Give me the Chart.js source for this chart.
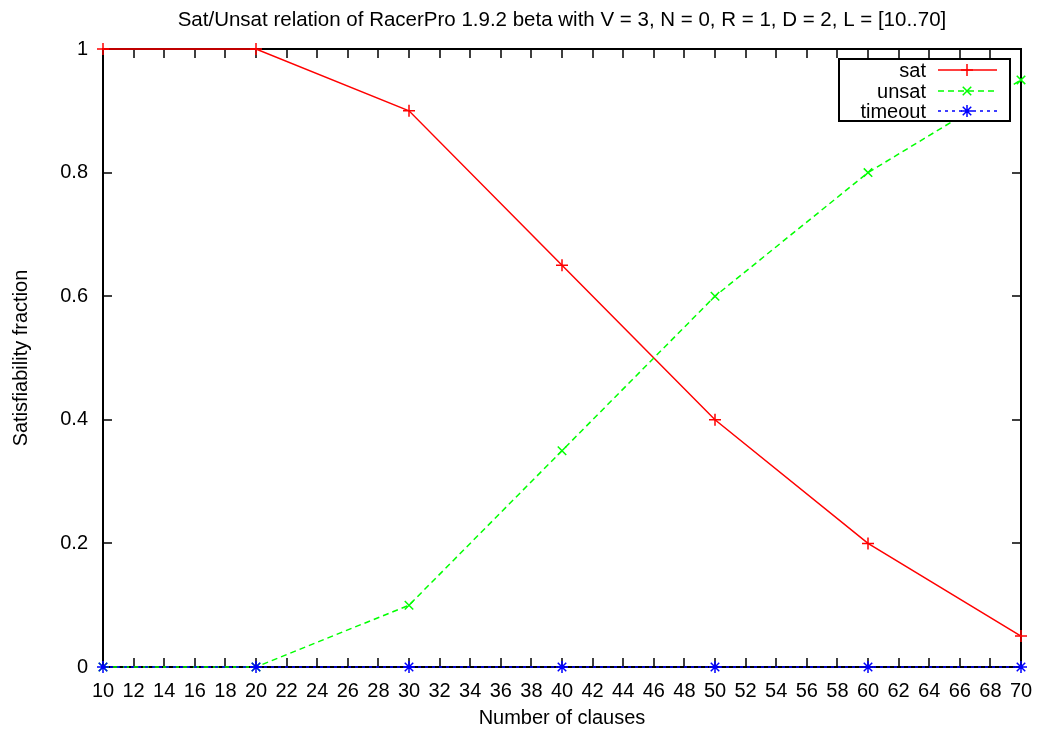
<!DOCTYPE html>
<html>
<head>
<meta charset="utf-8">
<script src="https://cdn.jsdelivr.net/npm/chart.js@4/dist/chart.umd.min.js"></script>
<style>
  html, body { margin: 0; padding: 0; background: #fff; }
  #wrap { width: 1041px; height: 733px; }
</style>
</head>
<body>
<div id="wrap"><canvas id="myChart" width="1041" height="733"></canvas></div>
<script>
// data
var clauses = [10, 20, 30, 40, 50, 60, 70];
var satValues = [1, 1, 0.9, 0.65, 0.4, 0.2, 0.05];
var unsatValues = [0, 0, 0.1, 0.35, 0.6, 0.8, 0.95];
var timeoutValues = [0, 0, 0, 0, 0, 0, 0];
var xTicks = [10, 12, 14, 16, 18, 20, 22, 24, 26, 28, 30, 32, 34, 36, 38, 40, 42, 44, 46, 48, 50, 52, 54, 56, 58, 60, 62, 64, 66, 68, 70];
var yTicks = [0, 0.2, 0.4, 0.6, 0.8, 1];

var FONT = '"Liberation Sans", Arial, sans-serif';
Chart.defaults.font.family = FONT;
Chart.defaults.color = '#000';

function toPoints(values) {
  return clauses.map((c, i) => ({ x: c, y: values[i] }));
}

// frame + inward ticks on all four sides, gnuplot style
var framePlugin = {
  id: 'frame',
  beforeDatasetsDraw(chart) {
    var ctx = chart.ctx;
    var a = chart.chartArea;
    var xs = chart.scales.x;
    var ys = chart.scales.y;
    ctx.save();
    ctx.strokeStyle = '#000';
    ctx.lineWidth = 1.5;
    ctx.beginPath();
    xTicks.forEach((t) => {
      var px = Math.round(xs.getPixelForValue(t));
      ctx.moveTo(px, a.bottom); ctx.lineTo(px, a.bottom - 9);
      ctx.moveTo(px, a.top); ctx.lineTo(px, a.top + 9);
    });
    yTicks.forEach((t) => {
      var py = Math.round(ys.getPixelForValue(t));
      ctx.moveTo(a.left, py); ctx.lineTo(a.left + 9, py);
      ctx.moveTo(a.right, py); ctx.lineTo(a.right - 9, py);
    });
    ctx.stroke();
    ctx.lineWidth = 2;
    ctx.strokeRect(a.left, a.top, a.right - a.left, a.bottom - a.top);
    ctx.restore();
  },
  afterDraw(chart) {
    // key box, top right
    var ctx = chart.ctx;
    var bx = 839, by = 59, bw = 171, bh = 62;
    ctx.save();
    ctx.fillStyle = '#fff';
    ctx.fillRect(bx, by, bw, bh);
    ctx.strokeStyle = '#000';
    ctx.lineWidth = 2;
    ctx.strokeRect(bx, by, bw, bh);
    ctx.font = '20px ' + FONT;
    ctx.textAlign = 'right';
    ctx.textBaseline = 'middle';
    var rows = [70, 91, 111];
    chart.data.datasets.forEach((ds, i) => {
      var y = rows[i];
      ctx.fillStyle = '#000';
      ctx.fillText(ds.label, 926, y + 1);
      ctx.strokeStyle = ds.borderColor;
      ctx.lineWidth = ds.borderWidth;
      ctx.setLineDash(ds.borderDash || []);
      ctx.beginPath();
      ctx.moveTo(938, y); ctx.lineTo(997, y);
      ctx.stroke();
      ctx.setLineDash([]);
      Chart.helpers.drawPoint(ctx, { pointStyle: ds.pointStyle, radius: ds.pointRadius, borderWidth: ds.pointBorderWidth }, 967, y);
    });
    ctx.restore();
  }
};

function seriesStyle(color, dash, marker, order) {
  return {
    borderColor: color,
    borderWidth: 1.5,
    borderDash: dash,
    pointStyle: marker,
    pointRadius: 6,
    pointBorderColor: color,
    pointBorderWidth: 1.5,
    tension: 0,
    fill: false,
    order: order,
  };
}

var config = {
  type: 'line',
  data: {
    datasets: [
      Object.assign({ label: 'sat', data: toPoints(satValues) }, seriesStyle('#ff0000', [], 'cross', 2)),
      Object.assign({ label: 'unsat', data: toPoints(unsatValues) }, seriesStyle('#00ff00', [6, 4], 'crossRot', 1)),
      Object.assign({ label: 'timeout', data: toPoints(timeoutValues) }, seriesStyle('#0000ff', [3, 4], 'star', 0)),
    ],
  },
  options: {
    responsive: false,
    animation: false,
    clip: false,
    layout: { padding: { top: 49, right: 20, left: 0, bottom: 0 } },
    plugins: {
      legend: { display: false },
      tooltip: { enabled: false },
      title: { display: false },
    },
    scales: {
      x: {
        type: 'linear',
        min: 10,
        max: 70,
        grid: { display: false },
        border: { display: false },
        afterBuildTicks: (s) => { s.ticks = xTicks.map((v) => ({ value: v })); },
        ticks: { font: { size: 20 }, padding: 4, maxRotation: 0, autoSkip: false, callback: (v) => String(v) },
        title: { display: true, text: 'Number of clauses', font: { size: 20 }, padding: { top: 0, bottom: 3 } },
        afterFit: (s) => { s.height = 66; },
      },
      y: {
        min: 0,
        max: 1,
        grid: { display: false },
        border: { display: false },
        afterBuildTicks: (s) => { s.ticks = yTicks.map((v) => ({ value: v })); },
        ticks: { font: { size: 20 }, padding: 7, callback: (v) => String(Math.round(v * 10) / 10) },
        title: { display: true, text: 'Satisfiability fraction', font: { size: 20 }, padding: { top: 9, bottom: 10 } },
        afterFit: (s) => { s.width = 103; },
      },
    },
  },
  plugins: [
    framePlugin,
    {
      id: 'topTitle',
      afterDraw(chart) {
        var ctx = chart.ctx;
        var a = chart.chartArea;
        ctx.save();
        ctx.font = '20.5px ' + FONT;
        ctx.fillStyle = '#000';
        ctx.textAlign = 'center';
        ctx.textBaseline = 'middle';
        ctx.fillText('Sat/Unsat relation of RacerPro 1.9.2 beta with V = 3, N = 0, R = 1, D = 2, L = [10..70]', (a.left + a.right) / 2, 20);
        ctx.restore();
      },
    },
  ],
};

var lineGraph = new Chart(document.getElementById('myChart'), config);
</script>
</body>
</html>
